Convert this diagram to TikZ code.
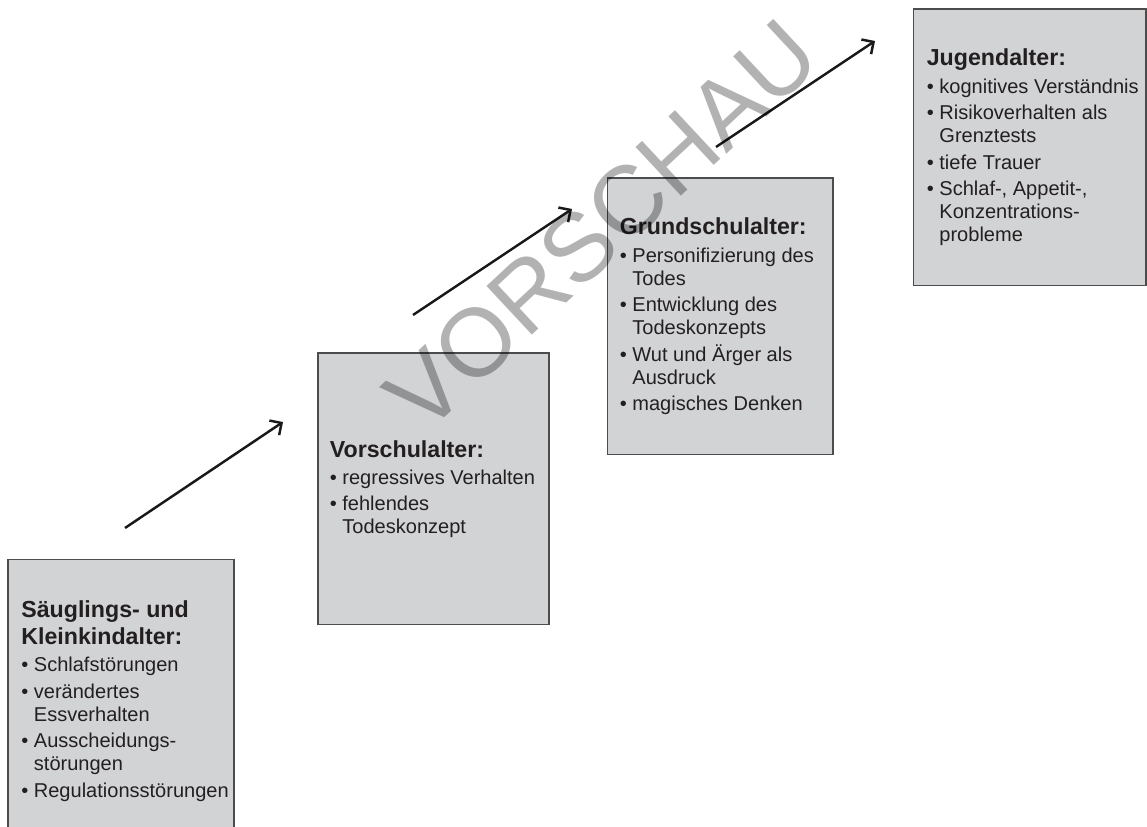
\documentclass[tikz,border=0pt]{standalone}
\usepackage{fontspec}
\setmainfont{Liberation Sans}
\usetikzlibrary{arrows.meta,positioning}
\definecolor{kastengrau}{RGB}{210,211,213}
\definecolor{schrift}{RGB}{35,31,32}
\newcommand{\pkt}{\textbullet\ }%项目符号
\newcommand{\ein}{\phantom{\textbullet\ }}%续行缩进
\newcommand{\stufe}[1]{\textbf{\fontsize{13.2}{15.4}\selectfont #1}}
\tikzset{
    kasten/.style={draw=black!70, line width=0.6pt, fill=kastengrau, inner sep=0pt},
    inhalt/.style={anchor=west, align=left, inner sep=0pt, text=schrift,
        font=\fontsize{11.4}{13.1}\selectfont},
    pfeil/.style={-{Straight Barb[length=5pt,width=10pt]}, line width=1.4pt, black!90},
}
\begin{document}
\begin{tikzpicture}[x=0.02cm,y=-0.02cm]
    \useasboundingbox (0,0) rectangle (1147,827);%画布大小
    % 四个阶段的方框
    \node[kasten, minimum width=4.52cm, minimum height=5.68cm] (saeugling) at (121,701) {};
    \node[kasten, minimum width=4.62cm, minimum height=5.44cm] (vorschule) at (433.5,489) {};
    \node[kasten, minimum width=4.52cm, minimum height=5.54cm] (grundschule) at (720,316.5) {};
    \node[kasten, minimum width=4.66cm, minimum height=5.54cm] (jugend) at (1029.5,147.5) {};
    % 方框中的文字
    \node[inhalt, right=0.27cm of saeugling.west] (saeugling-txt) {%
        \stufe{Säuglings- und}\\[2.3pt]
        \stufe{Kleinkindalter:}\\[2.3pt]
        \pkt Schlafstörungen\\[2pt]
        \pkt verändertes\\
        \ein Essverhalten\\[2pt]
        \pkt Ausscheidungs-\\
        \ein störungen\\[2pt]
        \pkt Regulationsstörungen};
    \node[inhalt, right=0.24cm of vorschule.west] (vorschule-txt) {%
        \stufe{Vorschulalter:}\\[2.3pt]
        \pkt regressives Verhalten\\[2pt]
        \pkt fehlendes\\
        \ein Todeskonzept};
    \node[inhalt, right=0.26cm of grundschule.west] (grundschule-txt) {%
        \stufe{Grundschulalter:}\\[2.3pt]
        \pkt Personifizierung des\\
        \ein Todes\\[2pt]
        \pkt Entwicklung des\\
        \ein Todeskonzepts\\[2pt]
        \pkt Wut und Ärger als\\
        \ein Ausdruck\\[2pt]
        \pkt magisches Denken};
    \node[inhalt, right=0.28cm of jugend.west] (jugend-txt) {%
        \stufe{Jugendalter:}\\[2.3pt]
        \pkt kognitives Verständnis\\[2pt]
        \pkt Risikoverhalten als\\
        \ein Grenztests\\[2pt]
        \pkt tiefe Trauer\\[2pt]
        \pkt Schlaf-, Appetit-,\\
        \ein Konzentrations-\\
        \ein probleme};
    % 箭头的起点和终点
    \coordinate (p1a) at (125,528);
    \coordinate (p1b) at (283,422);
    \coordinate (p2a) at (413,315);
    \coordinate (p2b) at (572,209);
    \coordinate (p3a) at (716,147);
    \coordinate (p3b) at (875,41);
    \draw[pfeil] (p1a) -- (p1b);
    \draw[pfeil] (p2a) -- (p2b);
    \draw[pfeil] (p3a) -- (p3b);
    % 水印
    \node[rotate=43, text=black, text opacity=0.3, inner sep=0pt,
        font=\fontsize{55}{55}\selectfont] (vorschau) at (602,225) {VORSCHAU};
\end{tikzpicture}
\end{document}
